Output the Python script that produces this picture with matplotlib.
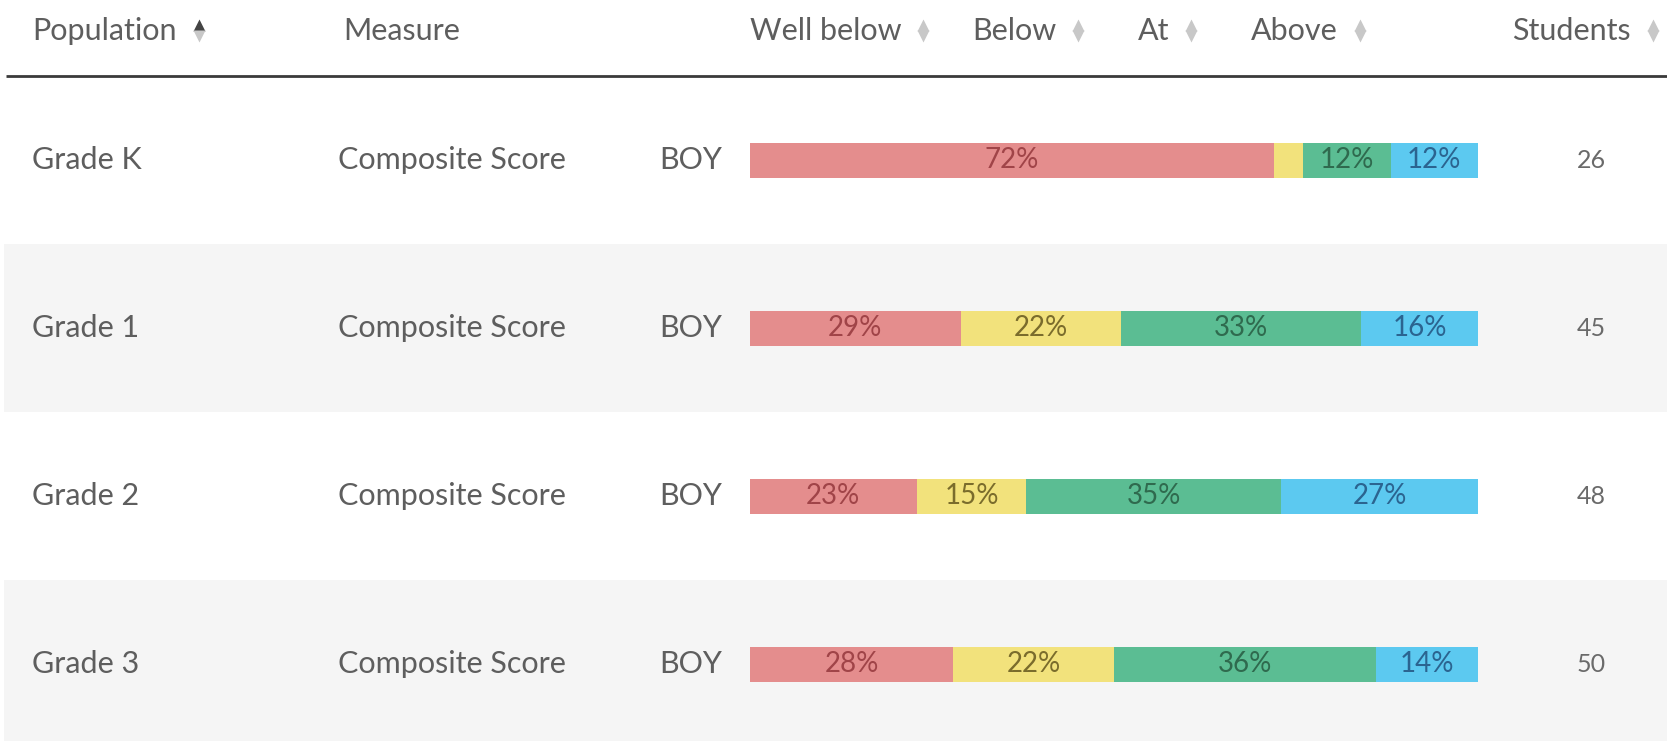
import matplotlib
matplotlib.use('Agg')
import matplotlib.pyplot as plt
import numpy as np

populations = ['Grade K', 'Grade 1', 'Grade 2', 'Grade 3']
measures = ['Composite Score', 'Composite Score', 'Composite Score', 'Composite Score']
periods = ['BOY', 'BOY', 'BOY', 'BOY']
well_below = [72, 29, 23, 28]
below = [4, 22, 15, 22]
at = [12, 33, 35, 36]
above = [12, 16, 27, 14]
students = [26, 45, 48, 50]
headers = ['Population', 'Measure', 'Well below', 'Below', 'At', 'Above', 'Students']

W, H = 1667, 741
font = ['Lato', 'DejaVu Sans']
plt.rcParams['font.family'] = font

fig = plt.figure(figsize=(W / 100, H / 100), dpi=100)
ax = fig.add_axes([0, 0, 1, 1])
ax.set_xlim(0, W)
ax.set_ylim(H, 0)
ax.axis('off')

header_h = 76
row_h = 168
row_y = header_h + row_h * (np.arange(len(populations)) + 0.5)

# faixas cinza alternadas
for i in range(len(populations)):
    if i % 2 == 1:
        ax.axhspan(header_h + row_h * i, header_h + row_h * (i + 1), xmin=4 / W, xmax=1,
                   color='#f5f5f5', zorder=0, lw=0)

# cabeçalho
ax.plot([6, W], [header_h, header_h], color='#3a3a3a', lw=2, solid_capstyle='butt')
header_x = [32, 343, 749.5, 972, 1137.5, 1251, 1512]
header_texts = []
for x, h in zip(header_x, headers):
    t = ax.text(x, 31, h, fontsize=22, color='#5e5e5e', va='center', ha='left')
    header_texts.append((h, t))

fig.canvas.draw()
inv = ax.transData.inverted()
for h, t in header_texts:
    if h == 'Measure':
        continue
    bb = t.get_window_extent()
    x_icon = inv.transform((bb.x1, 0))[0] + 22
    up_col = '#444444' if h == 'Population' else '#c8c8c8'
    ax.plot(x_icon, 25, marker='^', ms=8.5, color=up_col, mec='none')
    ax.plot(x_icon, 35.5, marker='v', ms=8.5, color='#c8c8c8', mec='none')

# textos das linhas
for i in range(len(populations)):
    ax.text(32, row_y[i], populations[i], fontsize=22, color='#5e5e5e', va='center')
    ax.text(338, row_y[i], measures[i], fontsize=22, color='#5e5e5e', va='center')
    ax.text(659, row_y[i], periods[i], fontsize=22, color='#5e5e5e', va='center')
    ax.text(1591, row_y[i], str(students[i]), fontsize=18, color='#6a6a6a',
            va='center', ha='center')

# barras empilhadas
bax = fig.add_axes([749.5 / W, 0, (1478 - 749.5) / W, 1])
bax.set_xlim(0, 100)
bax.set_ylim(H, 0)
bax.axis('off')

series = [well_below, below, at, above]
colors = ['#e48d8d', '#f2e27c', '#5bbd93', '#5cc9f0']
text_colors = ['#a04448', '#7a6c2c', '#2f6a4e', '#2b6490']
left = np.zeros(len(populations))
for vals, c, tc in zip(series, colors, text_colors):
    vals = np.array(vals, dtype=float)
    bax.barh(row_y, vals, left=left, height=35, color=c, lw=0)
    for y, v, l in zip(row_y, vals, left):
        if v >= 10:
            bax.text(l + v / 2, y, f'{int(v)}%', fontsize=20, color=tc,
                     ha='center', va='center')
    left += vals

fig.savefig('out.png', dpi=100)
